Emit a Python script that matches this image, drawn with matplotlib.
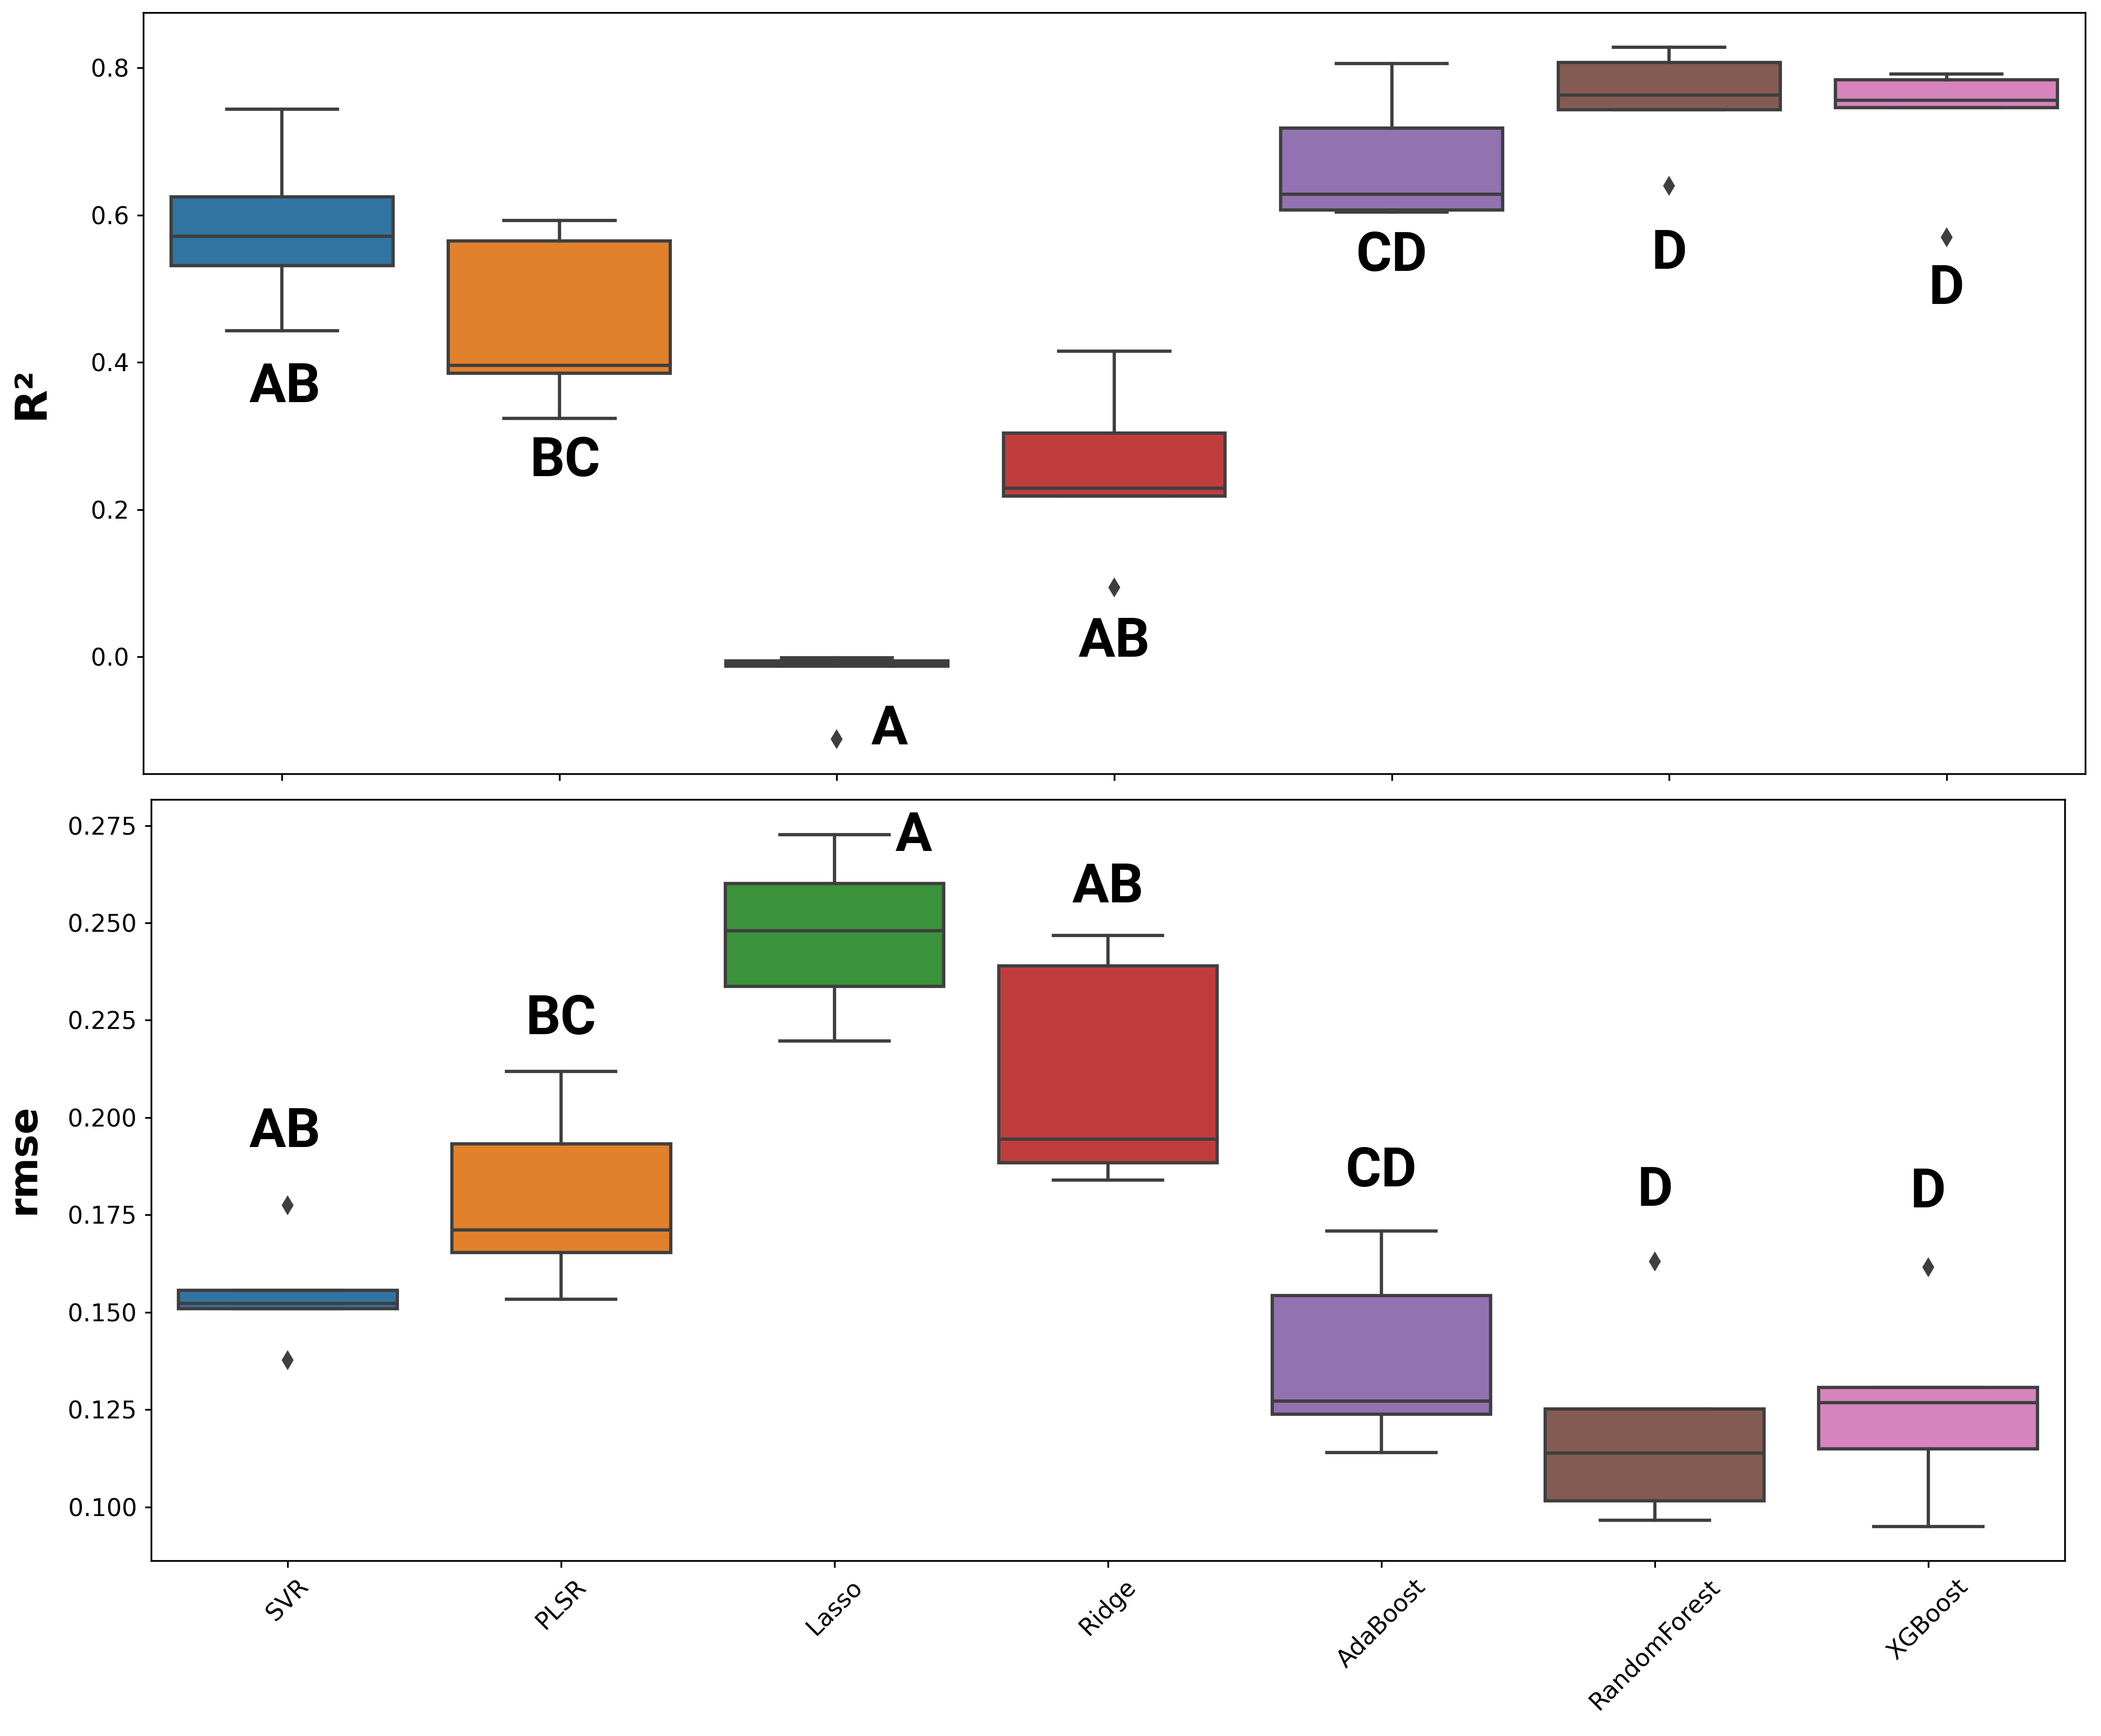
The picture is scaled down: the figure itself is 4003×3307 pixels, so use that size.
import numpy as np
import matplotlib
matplotlib.use("Agg")
import matplotlib.pyplot as plt
from matplotlib.ticker import FormatStrFormatter

models = ["SVR", "PLSR", "Lasso", "Ridge", "AdaBoost", "RandomForest", "XGBoost"]
colors = ["#3274a1", "#e1812c", "#3a923a", "#c03d3e", "#9372b2", "#845b53", "#d684bd"]

# R2 box stats
r2_whislo = [0.443, 0.324, -0.013, 0.218, 0.604, 0.743, 0.746]
r2_q1 = [0.531, 0.385, -0.013, 0.218, 0.607, 0.743, 0.746]
r2_med = [0.571, 0.396, -0.0095, 0.229, 0.628, 0.763, 0.756]
r2_q3 = [0.625, 0.565, -0.0055, 0.304, 0.718, 0.807, 0.784]
r2_whishi = [0.744, 0.593, -0.0014, 0.415, 0.806, 0.828, 0.792]
r2_fliers = [[], [], [-0.112], [0.094], [], [0.640], [0.570]]
r2_letters = ["AB", "BC", "A", "AB", "CD", "D", "D"]

# rmse box stats
rmse_whislo = [0.1509, 0.1533, 0.2197, 0.1839, 0.1140, 0.0966, 0.0949]
rmse_q1 = [0.1509, 0.1654, 0.2337, 0.1884, 0.1238, 0.1016, 0.1149]
rmse_med = [0.1523, 0.1711, 0.2480, 0.1944, 0.1272, 0.1138, 0.1268]
rmse_q3 = [0.1556, 0.1933, 0.2601, 0.2390, 0.1543, 0.1252, 0.1307]
rmse_whishi = [0.1556, 0.2118, 0.2727, 0.2467, 0.1708, 0.1252, 0.1307]
rmse_fliers = [[0.1775, 0.1377], [], [], [], [], [0.1630], [0.1615]]
rmse_letters = ["AB", "BC", "A", "AB", "CD", "D", "D"]

# where the group letters sit (baseline, data units) and their x shift
r2_letter_y = [0.346, 0.2455, -0.119, 0.0, 0.524, 0.527, 0.479]
r2_letter_dx = [0.01, 0.02, 0.19, 0.0, 0.0, 0.0, 0.0]
rmse_letter_y = [0.1924, 0.2214, 0.2685, 0.2553, 0.1823, 0.1773, 0.1769]
rmse_letter_dx = [-0.01, 0.0, 0.29, 0.0, 0.0, 0.0, 0.0]

gray = "#3f3f3f"
lw = 1.5


def make_stats(lo, q1, med, q3, hi, fl):
    out = []
    for i in range(len(models)):
        out.append(dict(whislo=lo[i], q1=q1[i], med=med[i], q3=q3[i],
                        whishi=hi[i], fliers=fl[i], label=models[i]))
    return out


def draw(ax, stats, letters, ly, ldx):
    pos = np.arange(len(models))
    bp = ax.bxp(stats, positions=pos, widths=0.8, patch_artist=True,
                showfliers=True, manage_ticks=False,
                boxprops=dict(edgecolor=gray, linewidth=lw),
                medianprops=dict(color=gray, linewidth=lw),
                whiskerprops=dict(color=gray, linewidth=lw),
                capprops=dict(color=gray, linewidth=lw),
                flierprops=dict(marker="d", markerfacecolor=gray, markeredgecolor=gray,
                                markersize=5, linestyle="none"))
    for patch, c in zip(bp["boxes"], colors):
        patch.set_facecolor(c)
    for i, t in enumerate(letters):
        ax.text(pos[i] + ldx[i], ly[i], t, ha="center", va="baseline",
                fontsize=25, fontweight="bold", family=["Roboto", "Liberation Sans", "DejaVu Sans"])
    ax.set_xlim(-0.5, len(models) - 0.5)
    ax.set_xticks(pos)
    ax.tick_params(labelsize=11, length=3)


fig = plt.figure(figsize=(4003 / 300, 3307 / 300), dpi=300)
ax1 = fig.add_axes([0.0682, 0.5543, 0.9925 - 0.0682, 0.9927 - 0.5543])
ax2 = fig.add_axes([0.0719, 0.1010, 0.9828 - 0.0719, 0.5395 - 0.1010])

draw(ax1, make_stats(r2_whislo, r2_q1, r2_med, r2_q3, r2_whishi, r2_fliers),
     r2_letters, r2_letter_y, r2_letter_dx)
ax1.set_ylim(-0.159, 0.875)
ax1.set_yticks([0.0, 0.2, 0.4, 0.6, 0.8])
ax1.yaxis.set_major_formatter(FormatStrFormatter("%.1f"))
ax1.set_xticklabels([])
ax1.set_ylabel("R²", fontsize=20, fontweight="bold")
ax1.yaxis.set_label_coords(-0.047, 0.5)

draw(ax2, make_stats(rmse_whislo, rmse_q1, rmse_med, rmse_q3, rmse_whishi, rmse_fliers),
     rmse_letters, rmse_letter_y, rmse_letter_dx)
ax2.set_ylim(0.0862, 0.2817)
ax2.set_yticks(np.arange(0.100, 0.2751, 0.025))
ax2.yaxis.set_major_formatter(FormatStrFormatter("%.3f"))
ax2.set_xticklabels(models, rotation=45)
ax2.set_ylabel("rmse", fontsize=18, fontweight="bold")
ax2.yaxis.set_label_coords(-0.0566, 0.528)

fig.savefig("out.png", dpi=300)
